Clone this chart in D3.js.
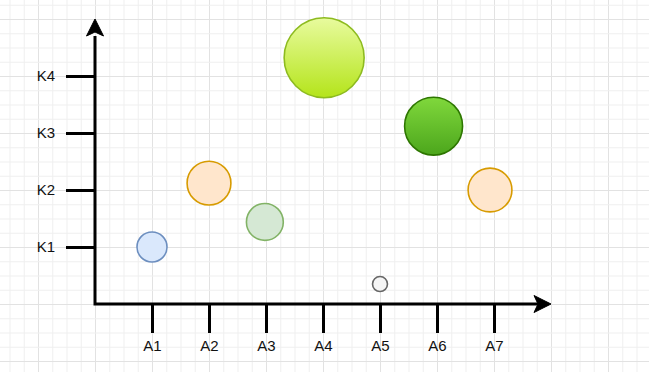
<!DOCTYPE html>
<html>
<head>
<meta charset="utf-8">
<script src="https://cdn.jsdelivr.net/npm/d3@7"></script>
<style>
  body { margin: 0; background: #fff; }
  svg { display: block; }
  .tick text { font-family: "Liberation Sans", Arial, sans-serif; font-size: 15px; fill: #111; }
</style>
</head>
<body>
<div id="chart"></div>
<script>
// categories on x, levels on y, bubble values
var categories = ["A1", "A2", "A3", "A4", "A5", "A6", "A7"];
var levels = ["K1", "K2", "K3", "K4"];
var xValues = [1, 2, 2.98, 4.02, 5, 5.94, 6.93];
var yValues = [1.0, 2.12, 1.44, 4.32, 0.35, 3.12, 2.0];
var sizes = [2.25, 4.8, 3.4, 16, 0.56, 8.4, 4.8];
var fills = ["#dae8fc", "#ffe6cc", "#d5e8d4", "lime", "#f5f5f5", "green", "#ffe6cc"];
var strokes = ["#6c8ebf", "#d79b00", "#82b366", "#8dbb1f", "#666666", "#2d7600", "#d79b00"];

var W = 649, H = 372;
var ox = 95, oy = 304, step = 57;

var svg = d3.select("#chart").append("svg")
    .attr("width", W).attr("height", H);

var defs = svg.append("defs");
var g1 = defs.append("linearGradient").attr("id", "lime").attr("x1", 0).attr("y1", 0).attr("x2", 0).attr("y2", 1);
g1.append("stop").attr("offset", "0%").attr("stop-color", "#e8fb9e");
g1.append("stop").attr("offset", "100%").attr("stop-color", "#b4e41a");
var g2 = defs.append("linearGradient").attr("id", "green").attr("x1", 0).attr("y1", 0).attr("x2", 0).attr("y2", 1);
g2.append("stop").attr("offset", "0%").attr("stop-color", "#80d83c");
g2.append("stop").attr("offset", "100%").attr("stop-color", "#4ca61c");

// scales: one unit = one category / level step
var x = d3.scaleLinear().domain([0, 1]).range([ox, ox + step]);
var y = d3.scaleLinear().domain([0, 1]).range([oy, oy - step]);
var r = d3.scaleSqrt().domain([0, 16]).range([0, 40]);

// background grid, minor every quarter step
var grid = svg.append("g");
var gx = d3.range(-8, 40).map(function(i) { return i / 4; });
var gy = d3.range(-8, 30).map(function(i) { return i / 4; });
grid.selectAll(".vx").data(gx).enter().append("line")
    .attr("x1", function(d) { return x(d) + 0.5; }).attr("x2", function(d) { return x(d) + 0.5; })
    .attr("y1", 0).attr("y2", H)
    .attr("stroke", function(d) { return d % 1 === 0 ? "#e2e2e2" : "#efefef"; });
grid.selectAll(".hy").data(gy).enter().append("line")
    .attr("y1", function(d) { return y(d) + 0.5; }).attr("y2", function(d) { return y(d) + 0.5; })
    .attr("x1", 0).attr("x2", W)
    .attr("stroke", function(d) { return d % 1 === 0 ? "#e2e2e2" : "#efefef"; });

// axes
var xAxis = d3.axisBottom(x)
    .tickValues(d3.range(1, categories.length + 1))
    .tickFormat(function(d) { return categories[d - 1]; })
    .tickSize(29).tickSizeOuter(0).tickPadding(7);
var yAxis = d3.axisLeft(y)
    .tickValues(d3.range(1, levels.length + 1))
    .tickFormat(function(d) { return levels[d - 1]; })
    .tickSize(29).tickSizeOuter(0).tickPadding(11);

svg.append("g").attr("transform", "translate(0," + oy + ")").call(xAxis)
    .call(function(g) { g.select(".domain").remove(); })
    .selectAll(".tick line").attr("stroke", "#000").attr("stroke-width", 3);
svg.append("g").attr("transform", "translate(" + ox + ",0)").call(yAxis)
    .call(function(g) { g.select(".domain").remove(); })
    .selectAll(".tick line").attr("stroke", "#000").attr("stroke-width", 3);

// axis lines with arrows
svg.append("path")
    .attr("d", "M" + x(0) + "," + (y(4.7)) + "V" + y(0) + "H" + (x(7.95)))
    .attr("fill", "none").attr("stroke", "#000").attr("stroke-width", 3);
var tipY = y(5), tipX = x(8.0);
svg.append("path")
    .attr("d", "M" + x(0) + "," + tipY + "L" + (x(0) + 8.5) + "," + (tipY + 17) +
               "L" + x(0) + "," + (tipY + 13) + "L" + (x(0) - 8.5) + "," + (tipY + 17) + "Z")
    .attr("fill", "#000").attr("stroke", "#000").attr("stroke-width", 1);
svg.append("path")
    .attr("d", "M" + tipX + "," + y(0) + "L" + (tipX - 17) + "," + (y(0) - 8.5) +
               "L" + (tipX - 13) + "," + y(0) + "L" + (tipX - 17) + "," + (y(0) + 8.5) + "Z")
    .attr("fill", "#000").attr("stroke", "#000").attr("stroke-width", 1);

// bubbles
var data = categories.map(function(c, i) {
    return { xv: xValues[i], v: yValues[i], s: sizes[i], fill: fills[i], stroke: strokes[i] };
});
svg.append("g").selectAll("circle").data(data).enter().append("circle")
    .attr("cx", function(d) { return x(d.xv); })
    .attr("cy", function(d) { return y(d.v); })
    .attr("r", function(d) { return r(d.s); })
    .attr("fill", function(d) { return d.fill === "lime" || d.fill === "green" ? "url(#" + d.fill + ")" : d.fill; })
    .attr("stroke", function(d) { return d.stroke; })
    .attr("stroke-width", 1.6);
</script>
</body>
</html>
